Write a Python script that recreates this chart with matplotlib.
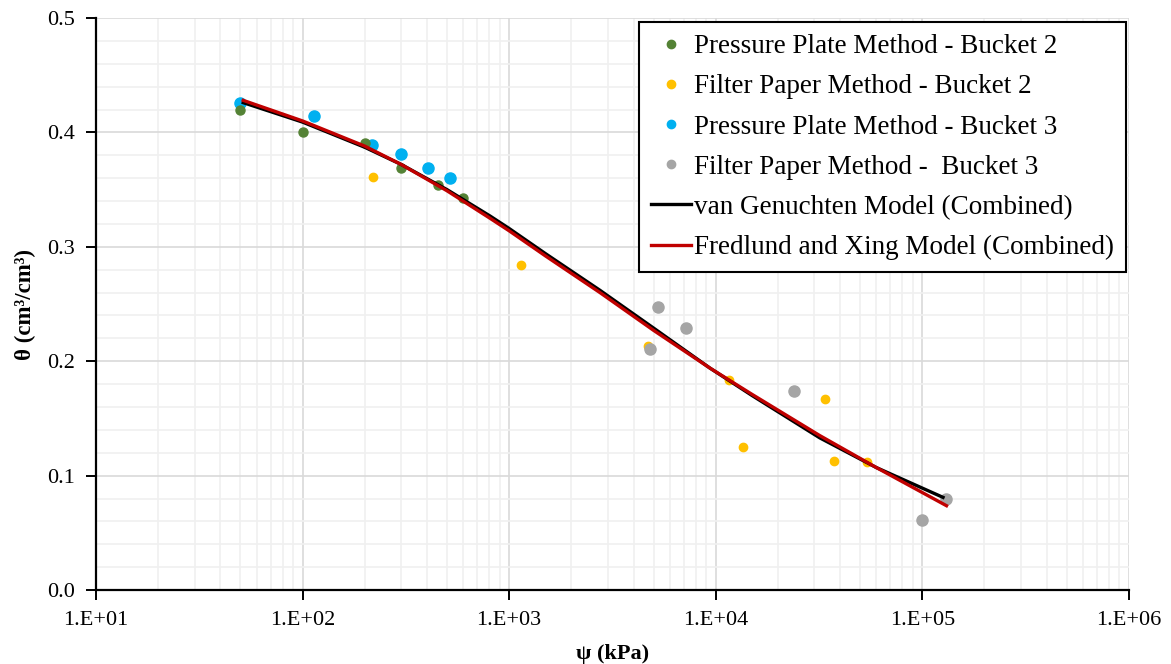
import numpy as np
import matplotlib
matplotlib.use("Agg")
import matplotlib.pyplot as plt
from matplotlib.ticker import FixedLocator, FuncFormatter, MultipleLocator, LogLocator

plt.rcParams.update({
    "font.family": ["Liberation Serif", "DejaVu Serif"],
    "font.size": 14,
})

# measured data
pp_b2_psi = [50, 100, 200, 300, 450, 600]
pp_b2_theta = [0.420, 0.400, 0.391, 0.369, 0.354, 0.343]

fp_b2_psi = [220, 1140, 4680, 11600, 13500, 33900, 37300, 54300]
fp_b2_theta = [0.361, 0.284, 0.213, 0.184, 0.125, 0.167, 0.113, 0.112]

pp_b3_psi = [50, 114, 217, 300, 403, 519]
pp_b3_theta = [0.426, 0.414, 0.389, 0.381, 0.369, 0.360]

fp_b3_psi = [5250, 7180, 4820, 23900, 129800, 99200]
fp_b3_theta = [0.247, 0.229, 0.211, 0.174, 0.080, 0.061]

# fitted curves
vg_psi = [51.6, 100, 200, 300, 500, 807, 1000, 1500, 2751, 5000, 9376, 15000, 31900, 60000, 126000]
vg_theta = [0.426, 0.409, 0.387, 0.372, 0.350, 0.327, 0.316, 0.294, 0.262, 0.229, 0.194, 0.170, 0.133, 0.107, 0.081]

fx_psi = [51.6, 100, 200, 300, 500, 807, 1000, 1500, 2751, 5000, 9376, 15000, 31900, 60000, 131000]
fx_theta = [0.428, 0.410, 0.388, 0.372, 0.349, 0.325, 0.314, 0.292, 0.260, 0.227, 0.194, 0.171, 0.135, 0.107, 0.0737]

fig = plt.figure(figsize=(11.71, 6.64), dpi=100)
ax = fig.add_axes([0.082, 0.1114, 0.882, 0.8615])

ax.plot(pp_b2_psi, pp_b2_theta, 'o', ms=6.5, color='#548235', label='Pressure Plate Method - Bucket 2', zorder=4)
ax.plot(fp_b2_psi, fp_b2_theta, 'o', ms=6, color='#FFC000', label='Filter Paper Method - Bucket 2', zorder=3)
ax.plot(pp_b3_psi, pp_b3_theta, 'o', ms=8, color='#00B0F0', label='Pressure Plate Method - Bucket 3', zorder=3)
ax.plot(fp_b3_psi, fp_b3_theta, 'o', ms=8, color='#A5A5A5', label='Filter Paper Method -  Bucket 3', zorder=3)
ax.plot(vg_psi, vg_theta, '-', lw=2.4, color='black', label='van Genuchten Model (Combined)', zorder=5)
ax.plot(fx_psi, fx_theta, '-', lw=2.4, color='#C00000', label='Fredlund and Xing Model (Combined)', zorder=6)

ax.set_xscale('log')
ax.set_xlim(10, 1e6)
ax.set_ylim(0, 0.5)

ax.xaxis.set_major_locator(FixedLocator([1e1, 1e2, 1e3, 1e4, 1e5, 1e6]))
ax.xaxis.set_minor_locator(LogLocator(base=10, subs=np.arange(2, 10), numticks=20))
ax.xaxis.set_major_formatter(FuncFormatter(lambda v, p: "1.E+%02d" % int(round(np.log10(v)))))
ax.xaxis.set_minor_formatter(FuncFormatter(lambda v, p: ""))
ax.yaxis.set_major_locator(MultipleLocator(0.1))
ax.yaxis.set_minor_locator(MultipleLocator(0.02))
ax.yaxis.set_major_formatter(FuncFormatter(lambda v, p: "%.1f" % v))

ax.grid(which='major', color='#D9D9D9', lw=1.2)
ax.grid(which='minor', color='#F0F0F0', lw=1.2)
ax.set_axisbelow(True)

for s in ['top', 'right']:
    ax.spines[s].set_visible(False)
for s in ['left', 'bottom']:
    ax.spines[s].set_linewidth(1.6)
    ax.spines[s].set_zorder(7)

ax.tick_params(which='major', length=7, width=1.4, direction='out', labelsize=16, colors='black')
ax.tick_params(axis='x', which='major', pad=8)
ax.tick_params(axis='y', which='major', pad=8)
ax.tick_params(which='minor', length=0)

ax.set_xlabel('ψ (kPa)', fontsize=16, fontweight='bold', labelpad=10)
ax.set_ylabel('θ (cm³/cm³)', fontsize=16.5, fontweight='bold', labelpad=8)

leg = ax.legend(loc='upper right', bbox_to_anchor=(0.997, 0.993), borderaxespad=0,
                fontsize=19.5, frameon=True, fancybox=False, edgecolor='black',
                framealpha=1, handlelength=1.5, handletextpad=0.08,
                labelspacing=0.56, borderpad=0.45)
leg.get_frame().set_linewidth(1.5)
for h in leg.legend_handles[:4]:
    h.set_markersize(6)

fig.savefig('out.png', dpi=100)
